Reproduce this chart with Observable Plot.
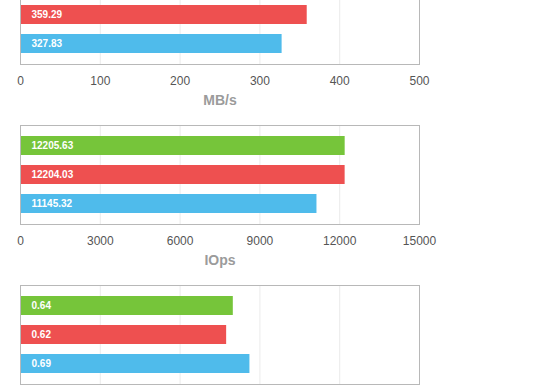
<!DOCTYPE html>
<html>
<head>
<meta charset="utf-8">
<script src="https://cdn.jsdelivr.net/npm/d3@7"></script>
<script src="https://cdn.jsdelivr.net/npm/@observablehq/plot@0.6"></script>
<style>
  html, body { margin: 0; padding: 0; background: #fff; overflow: hidden; }
  #wrap { margin-top: -45px; }
  #wrap svg { display: block; }
</style>
</head>
<body>
<div id="wrap"></div>
<script>
// Series (top to bottom) and their colours
const series = ["A", "B", "C"];
const colors = ["#76c53a", "#ee5050", "#4fbbeb"];

// Panel 1: throughput (its green bar lies above the picture)
const mbSeries = ["B", "C"];
const mbValues = [359.29, 327.83];
const mbTicks = [0, 100, 200, 300, 400, 500];
const mbTitle = "MB/s";

// Panel 2: IOps
const iopsSeries = ["A", "B", "C"];
const iopsValues = [12205.63, 12204.03, 11145.32];
const iopsTicks = [0, 3000, 6000, 9000, 12000, 15000];
const iopsTitle = "IOps";

// Panel 3: its axis labels lie below the picture (grid only)
const latSeries = ["A", "B", "C"];
const latValues = [0.64, 0.62, 0.69];
const latTicks = [0, 0.24, 0.48, 0.72, 0.96, 1.2];
const latTitle = null;

const fmt = d3.format(".2f");
const font = "'Liberation Sans', Arial, Helvetica, sans-serif";

function panel(names, values, ticks, title) {
  const data = names.map((s, i) => ({series: s, value: values[i]}));
  const marks = [
    Plot.frame({fill: "white", stroke: "none"}),
    Plot.ruleX(ticks, {stroke: "#ebebeb", strokeOpacity: 1}),
    Plot.barX(data, {x: "value", y: "series", fill: "series"}),
    Plot.text(data, {x: 0, y: "series", text: d => fmt(d.value), textAnchor: "start", dx: 11, fill: "white", fontSize: 10, fontWeight: "bold"}),
    Plot.frame({stroke: "#b8b8b8"})
  ];
  if (title) {
    marks.push(
      Plot.text(ticks, {x: d => d, frameAnchor: "bottom", lineAnchor: "middle", dy: 16.5, text: d => String(d), fill: "#555", fontSize: 12}),
      Plot.text([title], {frameAnchor: "bottom", lineAnchor: "middle", dy: 36.5, fill: "#9b9b9b", fontSize: 14, fontWeight: "bold"})
    );
  }
  const svg = Plot.plot({
    width: 560,
    height: 160,
    marginTop: 10,
    marginBottom: 51,
    marginLeft: 20,
    marginRight: 141,
    x: {domain: [ticks[0], ticks[ticks.length - 1]], axis: null},
    y: {domain: series, axis: null, padding: 1 / 3},
    color: {domain: series, range: colors},
    style: {fontFamily: font, fontSize: "12px", background: "transparent", overflow: "visible"},
    marks
  });
  const fr = svg.querySelector('g[aria-label="frame"]');
  if (fr) fr.style.filter = "drop-shadow(0px 5px 5px rgba(0,0,0,0.07))";
  return svg;
}

const wrap = document.getElementById("wrap");
wrap.appendChild(panel(mbSeries, mbValues, mbTicks, mbTitle));
wrap.appendChild(panel(iopsSeries, iopsValues, iopsTicks, iopsTitle));
wrap.appendChild(panel(latSeries, latValues, latTicks, latTitle));
</script>
</body>
</html>
